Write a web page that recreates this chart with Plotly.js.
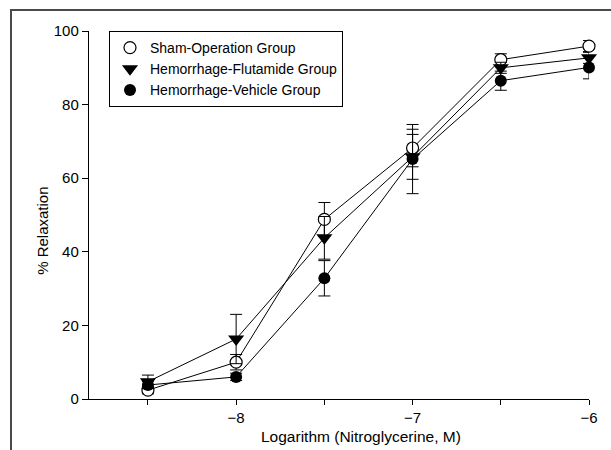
<!DOCTYPE html>
<html>
<head>
<meta charset="utf-8">
<script src="https://cdn.plot.ly/plotly-3.0.1.min.js"></script>
<style>
  html, body { margin: 0; padding: 0; background: #fff; }
  #wrap { position: relative; width: 611px; height: 450px; overflow: hidden; }
  #chart { width: 611px; height: 450px; }
  #frame { position: absolute; left: 10px; top: 9px; width: 700px; height: 500px;
           border-left: 2px solid #4a4a4a; border-top: 2px solid #4a4a4a; pointer-events: none; }
</style>
</head>
<body>
<div id="wrap">
  <div id="chart"></div>
  <div id="frame"></div>
</div>
<script>
// Log concentration of nitroglycerine (M)
const logDose = [-8.5, -8, -7.5, -7, -6.5, -6];

// % relaxation, mean and error (SE)
const shamMean = [2.4, 10.0, 48.8, 68.2, 92.2, 95.9];
const shamErr  = [1.0, 2.1, 4.6, 5.1, 1.6, 1.5];

const flutMean = [4.7, 16.3, 43.8, 65.8, 90.0, 92.7];
const flutErr  = [1.8, 6.7, 5.8, 6.1, 1.5, 1.5];

const vehMean  = [3.8, 6.0, 32.8, 65.2, 86.5, 90.1];
const vehErr   = [1.0, 1.0, 4.8, 9.4, 2.6, 3.1];

const seriesNames = ['Sham-Operation Group', 'Hemorrhage-Flutamide Group', 'Hemorrhage-Vehicle Group'];

const xTickVals = [-8.5, -8, -7.5, -7, -6.5, -6];
const xTickText = ['', '\u22128', '', '\u22127', '', '\u22126'];
const yTickVals = [0, 20, 40, 60, 80, 100];

const FONT = 'Liberation Sans, Arial, sans-serif';

function errBar(arr) {
  return { type: 'data', array: arr, visible: true, color: '#000', thickness: 1, width: 6 };
}

const styles = [
  { symbol: 'circle', color: '#fff', line: { color: '#000', width: 1.2 }, size: 12 },
  { symbol: 'triangle-down', color: '#000', line: { color: '#000', width: 0 }, size: 14 },
  { symbol: 'circle', color: '#000', line: { color: '#000', width: 0 }, size: 12 }
];
const means = [shamMean, flutMean, vehMean];
const errs = [shamErr, flutErr, vehErr];

const data = [];
for (let i = 0; i < 3; i++) {
  data.push({
    x: logDose, y: means[i], type: 'scatter', mode: 'lines+markers',
    line: { color: '#000', width: 1 },
    marker: styles[i],
    error_y: errBar(errs[i]),
    showlegend: false, cliponaxis: false, hoverinfo: 'skip'
  });
}
// legend entries (marker only)
for (let i = 0; i < 3; i++) {
  data.push({
    x: [null], y: [null], type: 'scatter', mode: 'markers',
    name: seriesNames[i], marker: styles[i], legendgroup: 'g' + i, showlegend: true
  });
}

const layout = {
  width: 611, height: 450,
  margin: { l: 89, r: 22, t: 31, b: 51 },
  paper_bgcolor: '#fff', plot_bgcolor: '#fff',
  font: { family: FONT, size: 14, color: '#000' },
  showlegend: true,
  legend: {
    x: 0.04, y: 1.0, xanchor: 'left', yanchor: 'top',
    bgcolor: '#fff', bordercolor: '#000', borderwidth: 1,
    font: { family: FONT, size: 14, color: '#000' },
    tracegroupgap: 0, itemwidth: 30
  },
  xaxis: {
    range: [-8.834, -6], tickvals: xTickVals, ticktext: xTickText,
    ticks: 'outside', ticklen: 5, tickwidth: 1, tickcolor: '#000',
    showline: true, linecolor: '#000', linewidth: 1.2,
    showgrid: false, zeroline: false, fixedrange: true,
    tickfont: { family: FONT, size: 15 }
  },
  yaxis: {
    range: [0, 100], tickvals: yTickVals,
    ticks: 'outside', ticklen: 6, tickwidth: 1, tickcolor: '#000',
    showline: true, linecolor: '#000', linewidth: 1.2,
    showgrid: false, zeroline: false, fixedrange: true,
    tickfont: { family: FONT, size: 15 }
  },
  annotations: [
    { text: 'Logarithm (Nitroglycerine, M)', xref: 'paper', yref: 'paper',
      x: 0.544, y: -0.103, xanchor: 'center', yanchor: 'middle', showarrow: false,
      font: { family: FONT, size: 15.5, color: '#000' } },
    { text: '% Relaxation', xref: 'paper', yref: 'paper', textangle: -90,
      x: -0.092, y: 0.457, xanchor: 'center', yanchor: 'middle', showarrow: false,
      font: { family: FONT, size: 15, color: '#000' } }
  ]
};

Plotly.newPlot('chart', data, layout, { displayModeBar: false, staticPlot: true });
</script>
</body>
</html>
